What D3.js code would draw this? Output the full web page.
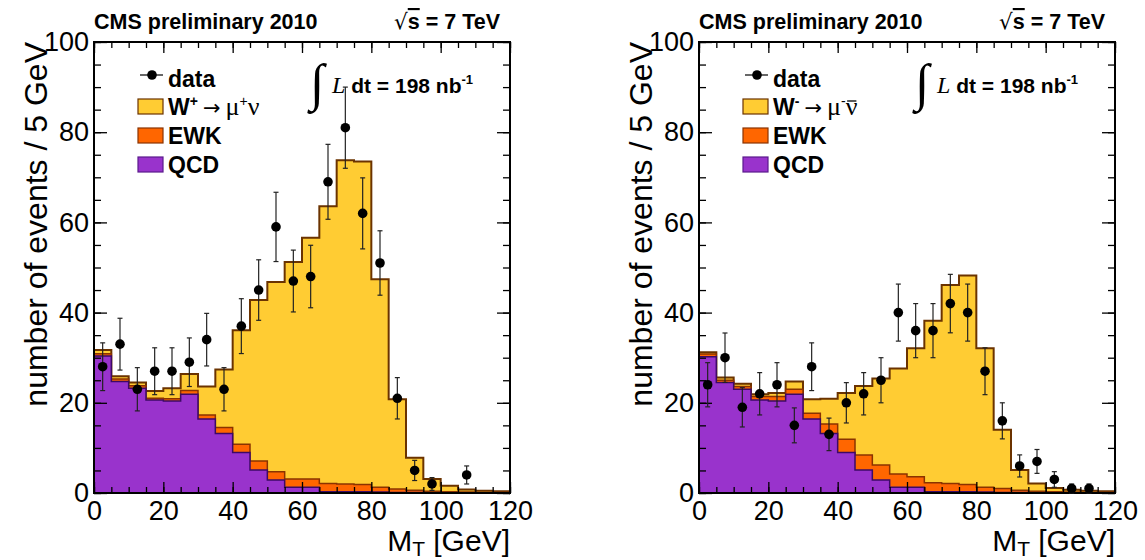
<!DOCTYPE html>
<html lang="en">
<head>
    <meta charset="UTF-8">
    <title>W to mu nu transverse mass</title>
    <script src="https://d3js.org/d3.v7.min.js"></script>
    <style>
        body { margin: 0; background: #fff; }
        text { font-family: "Liberation Sans", Arial, sans-serif; }
    </style>
</head>
<body>
<script>
    const width  = 1145;
    const height = 560;

    // bin low edges of M_T [GeV], 5 GeV wide
    const binLow = [0, 5, 10, 15, 20, 25, 30, 35, 40, 45, 50, 55, 60, 65, 70, 75, 80, 85, 90, 95, 100, 105, 110, 115];
    const binWidth = 5;

    // W+ panel
    const qcdPlus  = [30.4, 24.7, 23.2, 20.6, 20.4, 21.9, 16.4, 13.2, 9.0, 5.1, 2.9, 1.3, 1.3, 0.3, 0.3, 0.3, 0.2, 0.1, 0.1, 0.05, 0.05, 0, 0, 0];
    const ewkPlus  = [0.5, 0.6, 0.6, 0.4, 0.5, 0.8, 0.9, 1.3, 1.8, 2.0, 1.8, 1.8, 1.8, 1.8, 1.7, 1.6, 1.1, 0.8, 0.5, 0.35, 0.25, 0.2, 0.1, 0.1];
    const sigPlus  = [0.8, 0.6, 0.7, 1.6, 2.3, 3.7, 6.3, 12.9, 25.3, 35.7, 42.1, 48.1, 53.5, 61.5, 71.8, 71.6, 46.1, 19.9, 7.2, 2.7, 1.3, 0.6, 0.4, 0.3];
    const dataPlus = [28, 33, 23, 27, 27, 29, 34, 23, 37, 45, 59, 47, 48, 69, 81, 62, 51, 21, 5, 2, null, 4, null, null];

    // W- panel
    const qcdMinus  = [30.2, 24.5, 23.0, 20.6, 20.4, 21.9, 16.4, 13.2, 9.0, 5.1, 2.9, 1.3, 1.3, 0.3, 0.3, 0.3, 0.2, 0.1, 0.1, 0.05, 0.05, 0, 0, 0];
    const ewkMinus  = [0.6, 0.5, 0.6, 0.8, 1.0, 1.1, 1.3, 2.1, 2.9, 3.3, 3.3, 2.9, 2.3, 2.0, 1.8, 1.6, 1.1, 0.9, 0.5, 0.35, 0.25, 0.2, 0.1, 0.1];
    const sigMinus  = [0.4, 0.6, 0.6, 0.5, 0.8, 1.7, 3.1, 5.6, 10.3, 15.3, 19.2, 23.4, 28.5, 35.9, 44.0, 46.3, 30.8, 13.0, 4.5, 1.7, 0.8, 0.5, 0.4, 0.3];
    const dataMinus = [24, 30, 19, 22, 24, 15, 28, 13, 20, 22, 25, 40, 36, 36, 42, 40, 27, 16, 6, 7, 3, 1, 1, null];

    const xTicks = [0, 20, 40, 60, 80, 100, 120];
    const yTicks = [0, 20, 40, 60, 80, 100];

    const colW   = "#ffcc33";
    const colEWK = "#ff6600";
    const colQCD = "#9933cc";

    const svg = d3.select("body")
            .append("svg")
            .attr("width", width)
            .attr("height", height);

    function drawPanel(x0, qcd, ewk, sig, data, charge) {
        const top = 42, bottom = 493, w = 416;

        const x = d3.scaleLinear().domain([0, 120]).range([x0, x0 + w]);
        const y = d3.scaleLinear().domain([0, 100]).range([bottom, top]);

        const g = svg.append("g");

        // cumulative stack
        const cumQ = qcd;
        const cumE = qcd.map((d, i) => d + ewk[i]);
        const cumW = cumE.map((d, i) => d + sig[i]);

        const toSteps = vals => binLow.map((b, i) => ({x: b, v: vals[i]}))
                .concat([{x: binLow[binLow.length - 1] + binWidth, v: vals[vals.length - 1]}]);

        const step = d3.area()
                .curve(d3.curveStepAfter)
                .x(d => x(d.x))
                .y0(y(0))
                .y1(d => y(d.v));

        [[cumW, colW, "#6b3300", 2], [cumE, colEWK, "#8a3300", 1.5], [cumQ, colQCD, "#3d0a66", 1.5]]
            .forEach(([vals, fill, stroke, sw]) => {
                g.append("path")
                        .datum(toSteps(vals))
                        .attr("d", step)
                        .style("fill", fill)
                        .style("stroke", stroke)
                        .style("stroke-width", sw);
            });

        // axes with inward ticks, mirrored on all four sides
        const minorX = d3.range(0, 121, 5);
        const minorY = d3.range(0, 101, 5);

        const ax = (axis, tx, ty) => {
            const a = g.append("g").attr("transform", `translate(${tx},${ty})`).call(axis);
            a.select(".domain").remove();
            a.selectAll("line").style("stroke", "#000").style("stroke-width", 1.3);
            a.selectAll("text").style("font-size", "27px").style("fill", "#000")
                    .style("font-family", '"Liberation Sans", Arial, sans-serif');
            return a;
        };

        ax(d3.axisBottom(x).tickValues(minorX).tickFormat("").tickSize(-6), 0, bottom);
        ax(d3.axisBottom(x).tickValues(xTicks).tickFormat(d3.format("d")).tickSize(-11).tickPadding(8), 0, bottom);
        ax(d3.axisTop(x).tickValues(minorX).tickFormat("").tickSize(-6), 0, top);
        ax(d3.axisTop(x).tickValues(xTicks).tickFormat("").tickSize(-11), 0, top);

        ax(d3.axisLeft(y).tickValues(minorY).tickFormat("").tickSize(-7), x0, 0);
        ax(d3.axisLeft(y).tickValues(yTicks).tickFormat(d3.format("d")).tickSize(-13).tickPadding(5), x0, 0);
        ax(d3.axisRight(y).tickValues(minorY).tickFormat("").tickSize(-7), x0 + w, 0);
        ax(d3.axisRight(y).tickValues(yTicks).tickFormat("").tickSize(-13), x0 + w, 0);

        g.append("rect")
                .attr("x", x0).attr("y", top)
                .attr("width", w).attr("height", bottom - top)
                .style("fill", "none")
                .style("stroke", "#000")
                .style("stroke-width", 2);

        // data points with Poisson error bars
        const pts = binLow.map((b, i) => ({c: b + binWidth / 2, n: data[i]})).filter(d => d.n !== null);
        const cap = 2.5;
        const eg = g.append("g").style("stroke", "#222").style("stroke-width", 1.2).style("fill", "none");
        pts.forEach(d => {
            const e = Math.sqrt(d.n);
            const cx = x(d.c);
            eg.append("line").attr("x1", cx).attr("x2", cx).attr("y1", y(d.n - e)).attr("y2", y(d.n + e));
            eg.append("line").attr("x1", cx - cap).attr("x2", cx + cap).attr("y1", y(d.n - e)).attr("y2", y(d.n - e));
            eg.append("line").attr("x1", cx - cap).attr("x2", cx + cap).attr("y1", y(d.n + e)).attr("y2", y(d.n + e));
        });
        g.selectAll("circle.pt")
                .data(pts)
                .enter().append("circle")
                .attr("class", "pt")
                .attr("cx", d => x(d.c))
                .attr("cy", d => y(d.n))
                .attr("r", 4.8)
                .style("fill", "#000");

        // header
        g.append("text")
                .attr("x", x0).attr("y", 29)
                .style("font-size", "21.5px").style("font-weight", "bold")
                .text("CMS preliminary 2010");
        const rs = g.append("text")
                .attr("x", x0 + w - 10).attr("y", 29)
                .attr("text-anchor", "end")
                .style("font-size", "21.5px").style("font-weight", "bold");
        rs.append("tspan").style("font-weight", "normal").style("font-family", '"DejaVu Sans", sans-serif').text("√");
        rs.append("tspan").style("text-decoration", "overline").text("s");
        rs.append("tspan").text(" = 7 TeV");

        // axis titles
        const xt = g.append("text")
                .attr("x", x0 + w).attr("y", 551)
                .attr("text-anchor", "end")
                .style("font-size", "30px");
        xt.append("tspan").text("M");
        xt.append("tspan").attr("dy", 5).style("font-size", "21px").text("T");
        xt.append("tspan").attr("dy", -5).text(" [GeV]");

        g.append("text")
                .attr("transform", `translate(${x0 - 47},${top}) rotate(-90)`)
                .attr("text-anchor", "end")
                .style("font-size", "32px")
                .text("number of events / 5 GeV");

        // legend
        const lx = x0 + 44;
        const lg = g.append("g").style("font-size", "23px").style("font-weight", "bold");
        lg.append("line").attr("x1", lx + 2).attr("x2", lx + 25).attr("y1", 75).attr("y2", 75)
                .style("stroke", "#000").style("stroke-width", 1.2);
        lg.append("circle").attr("cx", lx + 14).attr("cy", 75).attr("r", 4.8).style("fill", "#000");
        lg.append("text").attr("x", lx + 30).attr("y", 87).text("data");

        const items = [[colW, "#6b3300"], [colEWK, "#8a3300"], [colQCD, "#5a1a8c"]];
        items.forEach(([f, s], i) => {
            lg.append("rect")
                    .attr("x", lx).attr("y", 99 + i * 29)
                    .attr("width", 25).attr("height", 15)
                    .style("fill", f).style("stroke", s).style("stroke-width", 1.2);
        });
        const serif = '"Liberation Serif", "Times New Roman", serif';
        const wt = lg.append("text").attr("x", lx + 30).attr("y", 115);
        wt.append("tspan").text("W");
        wt.append("tspan").attr("dy", -9).style("font-size", "14px").text(charge);
        wt.append("tspan").attr("dy", 9).attr("dx", 5).style("font-weight", "normal")
                .style("font-family", '"DejaVu Sans", sans-serif').style("font-size", "21px").text("\u2192");
        wt.append("tspan").attr("dx", 5).style("font-weight", "normal").style("font-family", serif)
                .style("font-size", "26px").text("\u03bc");
        wt.append("tspan").attr("dy", -9).style("font-size", "14px").style("font-weight", "normal").text(charge);
        wt.append("tspan").attr("dy", 9).style("font-weight", "normal").style("font-family", serif)
                .style("font-size", "26px").text("\u03bd");
        if (charge === "-") {
            // anti-neutrino bar just above the nu
            const node = wt.node();
            const idx = node.getNumberOfChars() - 1;
            const ext = node.getExtentOfChar(idx);
            lg.append("line")
                    .attr("x1", ext.x + 1.5).attr("x2", ext.x + ext.width - 1)
                    .attr("y1", 101).attr("y2", 101)
                    .style("stroke", "#000").style("stroke-width", 1.3);
        }

        lg.append("text").attr("x", lx + 30).attr("y", 144).text("EWK");
        lg.append("text").attr("x", lx + 30).attr("y", 173).text("QCD");

        // luminosity
        const ix = x0 + 216;
        g.append("text")
                .attr("x", ix).attr("y", 100)
                .style("font-family", serif)
                .style("font-size", "52px")
                .text("\u222b");
        const lt = g.append("text").attr("x", ix + 22).attr("y", 93).style("font-size", "21px").style("font-weight", "bold");
        lt.append("tspan").style("font-family", serif).style("font-style", "italic").style("font-weight", "normal")
                .style("font-size", "24px").text("L");
        lt.append("tspan").text(" dt = 198 nb");
        lt.append("tspan").attr("dy", -9).style("font-size", "13px").text("-1");
    }

    drawPanel(94, qcdPlus, ewkPlus, sigPlus, dataPlus, "+");
    drawPanel(699, qcdMinus, ewkMinus, sigMinus, dataMinus, "-");
</script>
</body>
</html>
